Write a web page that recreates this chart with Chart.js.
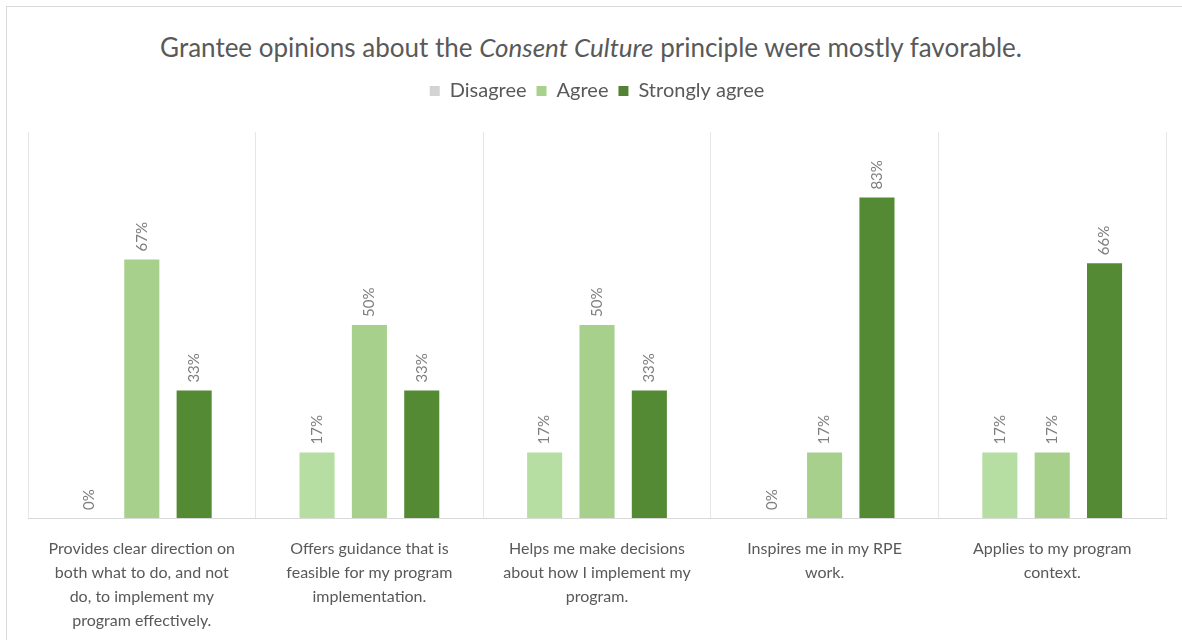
<!DOCTYPE html>
<html>
<head>
<meta charset="utf-8">
<script src="https://cdn.jsdelivr.net/npm/chart.js@4/dist/chart.umd.min.js"></script>
<style>
  body { margin: 0; background: #fff; }
  #wrap { position: relative; width: 1182px; height: 640px; overflow: hidden; }
  #frame { position: absolute; left: 6px; top: 6px; width: 1200px; height: 700px; border: 1px solid #d9d9d9; }
  #title { position: absolute; left: 0; top: 31px; width: 1182px; text-align: center; line-height: 32px;
           font-family: Lato, "Open Sans", sans-serif; font-size: 26px; color: #595959; }
  canvas { position: absolute; left: 0; top: 0; }
</style>
</head>
<body>
<div id="wrap">
  <div id="frame"></div>
  <div id="title">Grantee opinions about the <i>Consent Culture</i> principle were mostly favorable.</div>
  <canvas id="c" width="1182" height="640"></canvas>
</div>
<script>
const categories = [
  ['Provides clear direction on', 'both what to do, and not', 'do, to implement my', 'program effectively.'],
  ['Offers guidance that is', 'feasible for my program', 'implementation.'],
  ['Helps me make decisions', 'about how I implement my', 'program.'],
  ['Inspires me in my RPE', 'work.'],
  ['Applies to my program', 'context.']
];
const disagree = [0, 17, 17, 0, 17];
const agree = [67, 50, 50, 17, 17];
const stronglyAgree = [33, 33, 33, 83, 66];

const legendColors = ['#d3d3d3', '#a9d18e', '#548235'];

// rotated value labels above the bars
const barLabels = {
  id: 'barLabels',
  afterDatasetsDraw(chart) {
    const ctx = chart.ctx;
    ctx.save();
    ctx.font = '15px Lato, "Open Sans", sans-serif';
    ctx.fillStyle = '#7f7f7f';
    ctx.textAlign = 'left';
    ctx.textBaseline = 'middle';
    chart.data.datasets.forEach((ds, i) => {
      chart.getDatasetMeta(i).data.forEach((bar, j) => {
        ctx.save();
        ctx.translate(bar.x, bar.y - 8);
        ctx.rotate(-Math.PI / 2);
        ctx.fillText(ds.data[j] + '%', 0, 0);
        ctx.restore();
      });
    });
    ctx.restore();
  }
};

// extra room under the legend
const legendSpace = {
  id: 'legendSpace',
  beforeInit(chart) {
    const fit = chart.legend.fit;
    chart.legend.fit = function () {
      fit.bind(chart.legend)();
      this.height += 21;
    };
  }
};

new Chart(document.getElementById('c'), {
  type: 'bar',
  data: {
    labels: categories,
    datasets: [
      { label: 'Disagree', data: disagree, backgroundColor: '#b6dea2' },
      { label: 'Agree', data: agree, backgroundColor: '#a6d08b' },
      { label: 'Strongly agree', data: stronglyAgree, backgroundColor: '#548a34' }
    ]
  },
  options: {
    responsive: false,
    animation: false,
    layout: { padding: { top: 71, left: 28, right: 16, bottom: -12 } },
    datasets: { bar: { categoryPercentage: 0.69, barPercentage: 0.67 } },
    plugins: {
      title: { display: false },
      tooltip: { enabled: false },
      legend: {
        position: 'top',
        labels: {
          boxWidth: 10,
          boxHeight: 10,
          padding: 10,
          color: '#595959',
          font: { family: 'Lato, "Open Sans", sans-serif', size: 20 },
          generateLabels(chart) {
            return chart.data.datasets.map((ds, i) => ({
              text: ds.label,
              fillStyle: legendColors[i],
              strokeStyle: legendColors[i],
              lineWidth: 0,
              fontColor: '#595959',
              datasetIndex: i
            }));
          }
        }
      }
    },
    scales: {
      x: {
        grid: { color: '#e6e6e6', drawTicks: false, offset: true },
        border: { color: '#d9d9d9' },
        ticks: {
          color: '#595959',
          autoSkip: false,
          maxRotation: 0,
          padding: 19,
          font: { family: 'Lato, "Open Sans", sans-serif', size: 16, lineHeight: 1.5 }
        }
      },
      y: {
        display: false,
        min: 0,
        max: 100
      }
    }
  },
  plugins: [barLabels, legendSpace]
});
</script>
</body>
</html>
